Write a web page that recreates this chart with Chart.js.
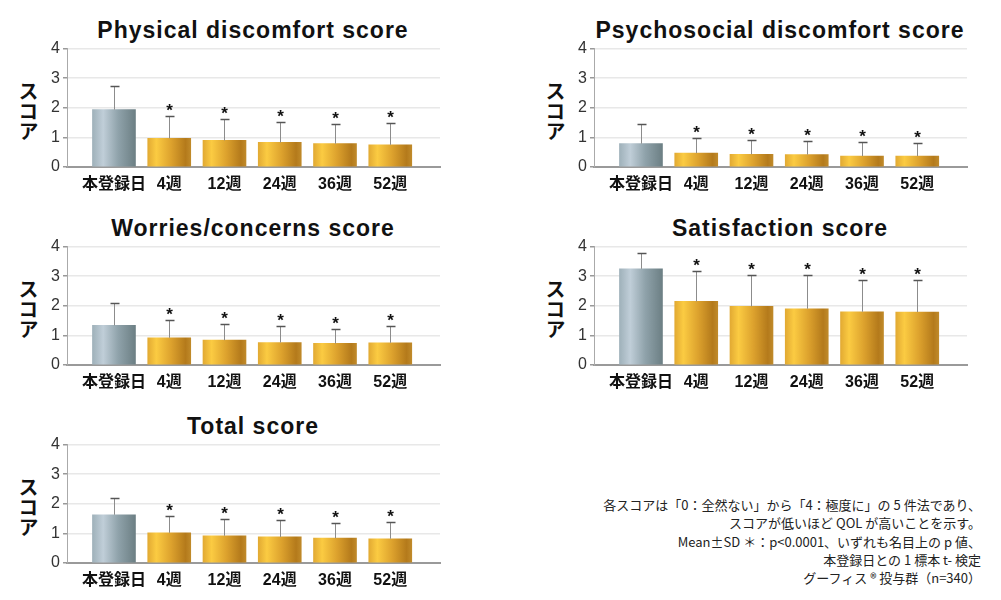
<!DOCTYPE html>
<html lang="ja">
<head>
  <meta charset="UTF-8">
  <meta name="viewport" content="width=device-width, initial-scale=1.0">
  <title>QOL scores</title>
  <script src="https://cdn.jsdelivr.net/npm/chart.js"></script>
  <style>
    html, body { margin: 0; padding: 0; background: #fff; overflow: hidden; }
    #page { position: relative; width: 1001px; height: 600px; overflow: hidden; }
    .box { position: absolute; width: 450px; height: 164px; }
    .title {
      position: absolute; width: 500px; text-align: center; white-space: nowrap;
      font: bold 23px 'Liberation Sans', Arial, sans-serif; letter-spacing: 1px;
      line-height: 26px; color: #111;
    }
    .ylab {
      position: absolute; writing-mode: vertical-rl; transform: translateY(-50%);
      font: bold 20px 'Noto Sans CJK JP', sans-serif; line-height: 20px; color: #111;
    }
    .note {
      position: absolute; right: 20px; top: 496px; text-align: right;
      font: 13px 'Noto Sans CJK JP', sans-serif; line-height: 18.3px; color: #222;
      white-space: nowrap;
    }
  </style>
</head>
<body>
  <div id="page">
    <!-- titles -->
    <div class="title" style="left:3px; top:17px;">Physical discomfort score</div>
    <div class="title" style="left:530px; top:17px;">Psychosocial discomfort score</div>
    <div class="title" style="left:3px; top:215px;">Worries/concerns score</div>
    <div class="title" style="left:530px; top:215px;">Satisfaction score</div>
    <div class="title" style="left:3px; top:413px;">Total score</div>

    <!-- y axis labels -->
    <div class="ylab" style="left:18px; top:111px;">スコア</div>
    <div class="ylab" style="left:545px; top:111px;">スコア</div>
    <div class="ylab" style="left:18px; top:309px;">スコア</div>
    <div class="ylab" style="left:545px; top:309px;">スコア</div>
    <div class="ylab" style="left:18px; top:507px;">スコア</div>

    <div class="box" style="left:0px; top:36px;"><canvas id="c1"></canvas></div>
    <div class="box" style="left:527px; top:36px;"><canvas id="c2"></canvas></div>
    <div class="box" style="left:0px; top:234px;"><canvas id="c3"></canvas></div>
    <div class="box" style="left:527px; top:234px;"><canvas id="c4"></canvas></div>
    <div class="box" style="left:0px; top:432px;"><canvas id="c5"></canvas></div>

    <div class="note">
      各スコアは「0：全然ない」から「4：極度に」の 5 件法であり、<br>
      スコアが低いほど QOL が高いことを示す。<br>
      Mean±SD ＊：p&lt;0.0001、いずれも名目上の p 値、<br>
      本登録日との 1 標本 t- 検定<br>
      グーフィス ® 投与群（n=340）
    </div>
  </div>

  <script>
    // categories and ticks
    const labels = ['本登録日', '4週', '12週', '24週', '36週', '52週'];
    const yTicks = [0, 1, 2, 3, 4];
    const significant = [false, true, true, true, true, true];

    // mean and SD
    const physicalMean = [1.94, 0.97, 0.90, 0.83, 0.79, 0.75];
    const physicalSD = [0.79, 0.74, 0.73, 0.70, 0.67, 0.74];
    const psychoMean = [0.79, 0.47, 0.43, 0.42, 0.37, 0.37];
    const psychoSD = [0.66, 0.52, 0.48, 0.45, 0.49, 0.44];
    const worriesMean = [1.34, 0.92, 0.84, 0.76, 0.73, 0.75];
    const worriesSD = [0.76, 0.61, 0.54, 0.55, 0.48, 0.56];
    const satisfactionMean = [3.25, 2.15, 1.98, 1.90, 1.80, 1.79];
    const satisfactionSD = [0.54, 1.03, 1.06, 1.14, 1.08, 1.09];
    const totalMean = [1.63, 1.02, 0.92, 0.88, 0.84, 0.82];
    const totalSD = [0.58, 0.56, 0.55, 0.56, 0.51, 0.56];

    const BAR_W = 43;

    // horizontal metallic gradient for each bar
    function barFill(ctx) {
      const fallback = ctx.dataIndex === 0 ? '#9fb1ba' : '#d9a12c';
      if (ctx.type !== 'data' || !ctx.chart.chartArea) return fallback;
      const chart = ctx.chart;
      const x = chart.scales.x ? chart.scales.x.getPixelForValue(ctx.dataIndex) : NaN;
      if (!isFinite(x)) return fallback;
      const g = chart.ctx.createLinearGradient(x - BAR_W / 2, 0, x + BAR_W / 2, 0);
      if (ctx.dataIndex === 0) {
        g.addColorStop(0, '#9fb1ba');
        g.addColorStop(0.25, '#c0ced8');
        g.addColorStop(0.6, '#8fa2aa');
        g.addColorStop(1, '#6c7f84');
      } else {
        g.addColorStop(0, '#e2aa33');
        g.addColorStop(0.2, '#fbcb42');
        g.addColorStop(0.55, '#dca12d');
        g.addColorStop(0.88, '#b47a1b');
        g.addColorStop(1, '#c08a2a');
      }
      return g;
    }

    // upper error bar + asterisk
    function errorBars(mean, sd) {
      return {
        id: 'errorBars',
        afterDatasetsDraw(chart) {
          const { ctx, scales: { x, y } } = chart;
          ctx.save();
          mean.forEach((m, i) => {
            const px = Math.round(x.getPixelForValue(i)) + 0.5;
            const top = y.getPixelForValue(m);
            const end = Math.round(y.getPixelForValue(m + sd[i])) + 0.5;
            ctx.strokeStyle = '#8c8c8c';
            ctx.lineWidth = 1;
            ctx.beginPath();
            ctx.moveTo(px, top);
            ctx.lineTo(px, end);
            ctx.stroke();
            ctx.strokeStyle = '#555';
            ctx.lineWidth = 1.5;
            ctx.beginPath();
            ctx.moveTo(px - 4, end);
            ctx.lineTo(px + 5, end);
            ctx.stroke();
            if (significant[i]) {
              ctx.fillStyle = '#111';
              ctx.font = 'bold 17px "Liberation Sans", Arial, sans-serif';
              ctx.textAlign = 'center';
              ctx.textBaseline = 'alphabetic';
              ctx.fillText('*', px, end - 1);
            }
          });
          ctx.restore();
        }
      };
    }

    function makeChart(id, mean, sd) {
      new Chart(document.getElementById(id), {
        type: 'bar',
        data: {
          datasets: [{
            data: mean.map((v, i) => ({ x: i, y: v })),
            backgroundColor: barFill,
            borderWidth: 0,
            barThickness: BAR_W
          }]
        },
        options: {
          responsive: true,
          maintainAspectRatio: false,
          animation: false,
          layout: { padding: { top: 12, right: 10, bottom: 5, left: 0 } },
          plugins: { legend: { display: false }, tooltip: { enabled: false } },
          scales: {
            x: {
              type: 'linear',
              min: -0.85,
              max: 5.9,
              offset: false,
              afterFit(s) { s.height = 28; },
              afterBuildTicks(s) { s.ticks = labels.map((l, i) => ({ value: i })); },
              ticks: {
                callback: v => labels[v],
                autoSkip: false,
                maxRotation: 0,
                padding: 8,
                color: '#111',
                font: { family: "'Liberation Sans', 'Noto Sans CJK JP', sans-serif", size: 16, weight: 'bold' }
              },
              grid: { display: false, drawTicks: false },
              border: { color: '#9a9a9a', width: 2 }
            },
            y: {
              min: 0,
              max: 4,
              afterFit(s) { s.width = 67; },
              afterBuildTicks(s) { s.ticks = yTicks.map(v => ({ value: v })); },
              ticks: {
                color: '#333',
                padding: 3,
                font: { family: "'Liberation Sans', Arial, sans-serif", size: 16 }
              },
              grid: { color: '#e8e8e8', lineWidth: 1.5, tickColor: '#999', tickLength: 4 },
              border: { color: '#aaa', width: 1 }
            }
          }
        },
        plugins: [errorBars(mean, sd)]
      });
    }

    makeChart('c1', physicalMean, physicalSD);
    makeChart('c2', psychoMean, psychoSD);
    makeChart('c3', worriesMean, worriesSD);
    makeChart('c4', satisfactionMean, satisfactionSD);
    makeChart('c5', totalMean, totalSD);
  </script>
</body>
</html>
